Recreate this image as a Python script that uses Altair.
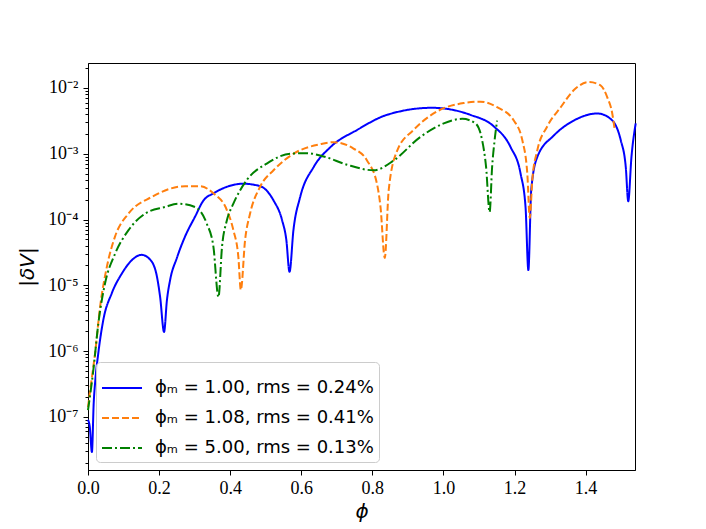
import altair as alt
import pandas as pd

# phi_M = 1.00
x_blue = [0.0, 0.005, 0.011, 0.016, 0.021, 0.029, 0.043, 0.067, 0.095, 0.123, 0.151, 0.179, 0.194, 0.203, 0.214,
          0.222, 0.231, 0.250, 0.273, 0.301, 0.325, 0.353, 0.395, 0.437, 0.485, 0.522, 0.546, 0.558, 0.567,
          0.578, 0.597, 0.635, 0.682, 0.757, 0.841, 0.968, 1.076, 1.142, 1.189, 1.217, 1.231, 1.239,
          1.247, 1.264, 1.311, 1.367, 1.433, 1.470, 1.499, 1.513, 1.520, 1.529, 1.541]
y_blue = [9.0e-8, 7.0e-8, 2.9e-8, 1.6e-7, 3.8e-7, 9.3e-7, 2.95e-6, 7.6e-6, 1.5e-5, 2.4e-5, 2.9e-5, 2.3e-5, 1.35e-5, 6.6e-6, 1.95e-6,
          5.9e-6, 1.2e-5, 2.6e-5, 5.5e-5, 1.1e-4, 1.95e-4, 2.5e-4, 3.2e-4, 3.5e-4, 3.2e-4, 1.95e-4, 9.8e-5, 4.9e-5, 1.6e-5,
          6.9e-5, 2.2e-4, 6.3e-4, 1.26e-3, 2.3e-3, 3.9e-3, 5.0e-3, 3.9e-3, 2.6e-3, 1.26e-3, 5.0e-4, 1.55e-4, 1.7e-5,
          2.8e-4, 8.9e-4, 1.9e-3, 3.2e-3, 4.1e-3, 3.4e-3, 1.6e-3, 6.3e-4, 1.9e-4, 8.9e-4, 2.9e-3]

# phi_M = 1.08
x_orange = [0.0, 0.010, 0.020, 0.034, 0.053, 0.076, 0.114, 0.179, 0.273, 0.315, 0.353, 0.391, 0.409, 0.423, 0.430,
            0.442, 0.456, 0.485, 0.522, 0.578, 0.654, 0.691, 0.747, 0.785, 0.813, 0.823, 0.835,
            0.846, 0.870, 0.916, 0.982, 1.057, 1.104, 1.151, 1.198, 1.222, 1.236, 1.243,
            1.250, 1.264, 1.292, 1.330, 1.367, 1.409, 1.442, 1.461, 1.475, 1.482]
y_orange = [1.4e-7, 3.6e-7, 9.3e-7, 4.7e-6, 1.9e-5, 5.5e-5, 1.23e-4, 2.2e-4, 3.2e-4, 3.2e-4, 2.5e-4, 1.38e-4, 6.9e-5, 2.7e-5, 8.5e-6,
            4.9e-5, 1.23e-4, 3.2e-4, 5.6e-4, 1.0e-3, 1.4e-3, 1.5e-3, 1.2e-3, 7.9e-4, 3.5e-4, 1.55e-4, 2.6e-5,
            2.8e-4, 1.12e-3, 2.3e-3, 4.4e-3, 5.9e-3, 6.2e-3, 5.1e-3, 3.2e-3, 1.6e-3, 5.0e-4, 1.05e-4,
            4.0e-4, 1.12e-3, 2.6e-3, 5.1e-3, 9.3e-3, 1.23e-2, 1.1e-2, 7.2e-3, 4.1e-3, 2.3e-3]

# phi_M = 5.00
x_green = [0.0, 0.015, 0.029, 0.048, 0.076, 0.114, 0.161, 0.217, 0.254, 0.301, 0.334, 0.353, 0.367,
           0.377, 0.391, 0.409, 0.447, 0.503, 0.569, 0.616, 0.663, 0.729, 0.804, 0.860, 0.935, 1.001,
           1.053, 1.090, 1.109, 1.120, 1.130, 1.137, 1.144, 1.151]
y_green = [1.26e-7, 5.1e-7, 2.6e-6, 1.07e-5, 3.0e-5, 6.9e-5, 1.23e-4, 1.55e-4, 1.74e-4, 1.55e-4, 8.7e-5, 3.8e-5, 6.6e-6,
           3.8e-5, 9.8e-5, 1.74e-4, 4.0e-4, 7.1e-4, 1.0e-3, 1.02e-3, 9.1e-4, 6.8e-4, 5.6e-4, 7.9e-4, 1.8e-3, 2.9e-3,
           3.4e-3, 2.9e-3, 1.6e-3, 6.3e-4, 1.3e-4, 6.3e-4, 1.6e-3, 3.2e-3]

labels = ["ϕₘ = 1.00, rms = 0.24%", "ϕₘ = 1.08, rms = 0.41%", "ϕₘ = 5.00, rms = 0.13%"]
colors = ["#0000ff", "#ff7f0e", "#008000"]
dashes = [[1, 0], [7, 3], [10, 3, 2, 3]]
x_ticks = [0.0, 0.2, 0.4, 0.6, 0.8, 1.0, 1.2, 1.4]

rows = []
for lab, xs, ys in zip(labels, [x_blue, x_orange, x_green], [y_blue, y_orange, y_green]):
    for i, (xv, yv) in enumerate(zip(xs, ys)):
        rows.append({"series": lab, "phi": xv, "dV": yv, "i": i})
df = pd.DataFrame(rows)

y_vals = []
for k in range(-8, -1):
    for m in range(1, 10):
        v = m * 10.0 ** k
        if 1.55e-8 <= v <= 2.4e-2:
            y_vals.append(v)

isdec = "abs(log(datum.value)/LN10 - round(log(datum.value)/LN10)) < 0.001"
ex = "round(log(datum.value)/LN10)"
sup = {-2: "⁻²", -3: "⁻³", -4: "⁻⁴", -5: "⁻⁵", -6: "⁻⁶", -7: "⁻⁷", -8: "⁻⁸"}
expr = "''"
for k, s in sup.items():
    expr = f"({ex} == {k} ? '10{s}' : {expr})"
label_expr = f"{isdec} ? {expr} : ''"

chart = alt.Chart(df).mark_line(strokeWidth=2, interpolate="monotone").encode(
    x=alt.X("phi:Q", scale=alt.Scale(domain=[0, 1.539], nice=False, zero=False),
            axis=alt.Axis(values=x_ticks, format=".1f", title="ϕ", grid=False,
                          labelFont="Liberation Serif", labelFontSize=18, tickSize=5,
                          labelPadding=4, titleFont="DejaVu Sans", titleFontStyle="italic",
                          titleFontSize=20, titleFontWeight="normal", titlePadding=4,
                          labelFlush=False)),
    y=alt.Y("dV:Q", scale=alt.Scale(type="log", domain=[1.55e-8, 2.4e-2], nice=False),
            axis=alt.Axis(values=y_vals, labelExpr=label_expr, title="|δV|", grid=False,
                          labelFont="Liberation Serif", labelFontSize=18,
                          tickSize={"condition": {"test": isdec, "value": 5}, "value": 3},
                          labelPadding=5, titleFont="DejaVu Sans", titleFontStyle="italic",
                          titleFontSize=20, titleFontWeight="normal", titlePadding=10)),
    color=alt.Color("series:N", sort=labels,
                    scale=alt.Scale(domain=labels, range=colors),
                    legend=alt.Legend(title=None, orient="bottom-left", offset=8,
                                      symbolType="stroke", symbolSize=1600, symbolStrokeWidth=2,
                                      labelFont="DejaVu Sans", labelFontSize=18, labelOffset=12,
                                      rowPadding=0, padding=5, cornerRadius=4,
                                      strokeColor="#cccccc", fillColor="rgba(255,255,255,0.85)",
                                      labelLimit=400)),
    strokeDash=alt.StrokeDash("series:N", sort=labels,
                              scale=alt.Scale(domain=labels, range=dashes), legend=None),
    detail="series:N",
    order="i:Q",
).properties(
    width=547, height=407,
    padding={"left": 80, "top": 55, "right": 63, "bottom": 58},
    autosize="none",
).configure_view(
    stroke="black", strokeWidth=1
).configure_axis(
    domainColor="black", tickColor="black", labelColor="black", titleColor="black"
)

chart.save("out.html", embed_options={"renderer": "svg", "actions": False})
